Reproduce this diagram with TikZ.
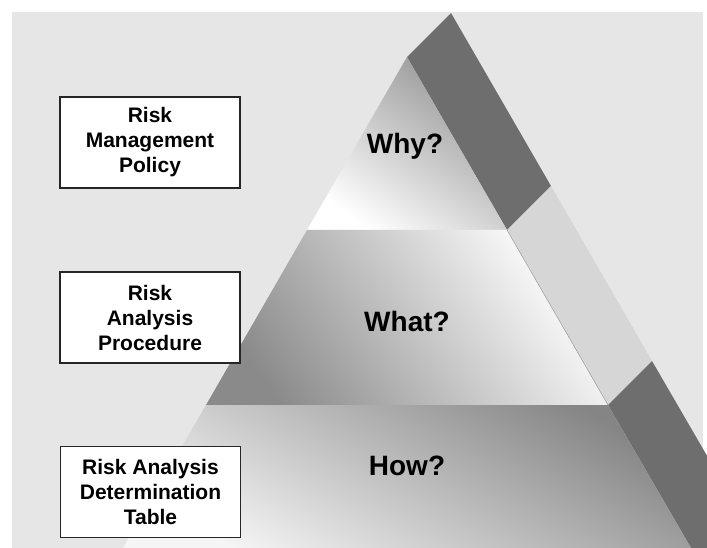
\documentclass[tikz,border=0pt]{standalone}
\usepackage{fontspec}
\setmainfont{Liberation Sans}
\usetikzlibrary{calc}

\definecolor{paper}{RGB}{230,230,230}
\definecolor{bandDark}{RGB}{110,110,110}
\definecolor{bandLight}{RGB}{214,214,214}

\begin{document}
\begin{tikzpicture}[x=1pt,y=-1pt,
    levelbox/.style={draw=black!85, line width=1.2pt, fill=white,
        minimum width=180pt, minimum height=91pt, inner sep=0pt,
        align=center, font=\fontsize{21}{25}\selectfont\bfseries},
    tierlabel/.style={font=\fontsize{28}{32}\selectfont\bfseries, inner sep=0pt}]
    \useasboundingbox (0,0) rectangle (707,548);

    % Định nghĩa tọa độ các điểm
    \coordinate (A)  at (407,57);
    \coordinate (L1) at (307,230);
    \coordinate (L2) at (206,405);
    \coordinate (L3) at (123,548);
    \coordinate (R1) at (507,230);
    \coordinate (R2) at (608,405);
    \coordinate (R3) at (691,548);
    \coordinate (R4) at ($(R2)!1.6!(R3)$);
    \coordinate (S)  at (44,-44);

    % Nền
    \fill[paper] (12,12) rectangle (703,548);

    \begin{scope}
    \clip (0,0) rectangle (707,548);

    % Các dải bên phải
    \fill[bandDark] (A) -- ($(A)+(S)$) -- ($(R1)+(S)$) -- (R1) -- cycle;
    \fill[bandLight] (R1) -- ($(R1)+(S)$) -- ($(R2)+(S)$) -- (R2) -- cycle;
    \fill[bandDark] (R2) -- ($(R2)+(S)$) -- ($(R4)+(S)$) -- (R4) -- cycle;

    % Ba tầng của kim tự tháp
    \shade[top color=black!42, bottom color=white, shading angle=-35]
        (A) -- (R1) -- (L1) -- cycle;
    \shade[top color=white, bottom color=black!46, shading angle=-55]
        (L1) -- (R1) -- (R2) -- (L2) -- cycle;
    \shade[top color=black!48, bottom color=black!4, shading angle=-30]
        (L2) -- (R2) -- (R3) -- (L3) -- cycle;
    \draw[black!45, line width=0.4pt] (R1) -- (R2);
    \end{scope}

    % Nhãn các tầng
    \node[tierlabel] (why)  at (405,146) {Why?};
    \node[tierlabel] (what) at (407,321) {What?};
    \node[tierlabel] (how)  at (407,466) {How?};

    % Các hộp bên trái
    \node[levelbox] (policy)    at (150,142.5) {Risk\\Management\\Policy};
    \node[levelbox] (procedure) at (150,317.5) {Risk\\Analysis\\Procedure};
    \node[levelbox] (table)     at (150.5,492) {Risk Analysis\\Determination\\Table};
\end{tikzpicture}
\end{document}
